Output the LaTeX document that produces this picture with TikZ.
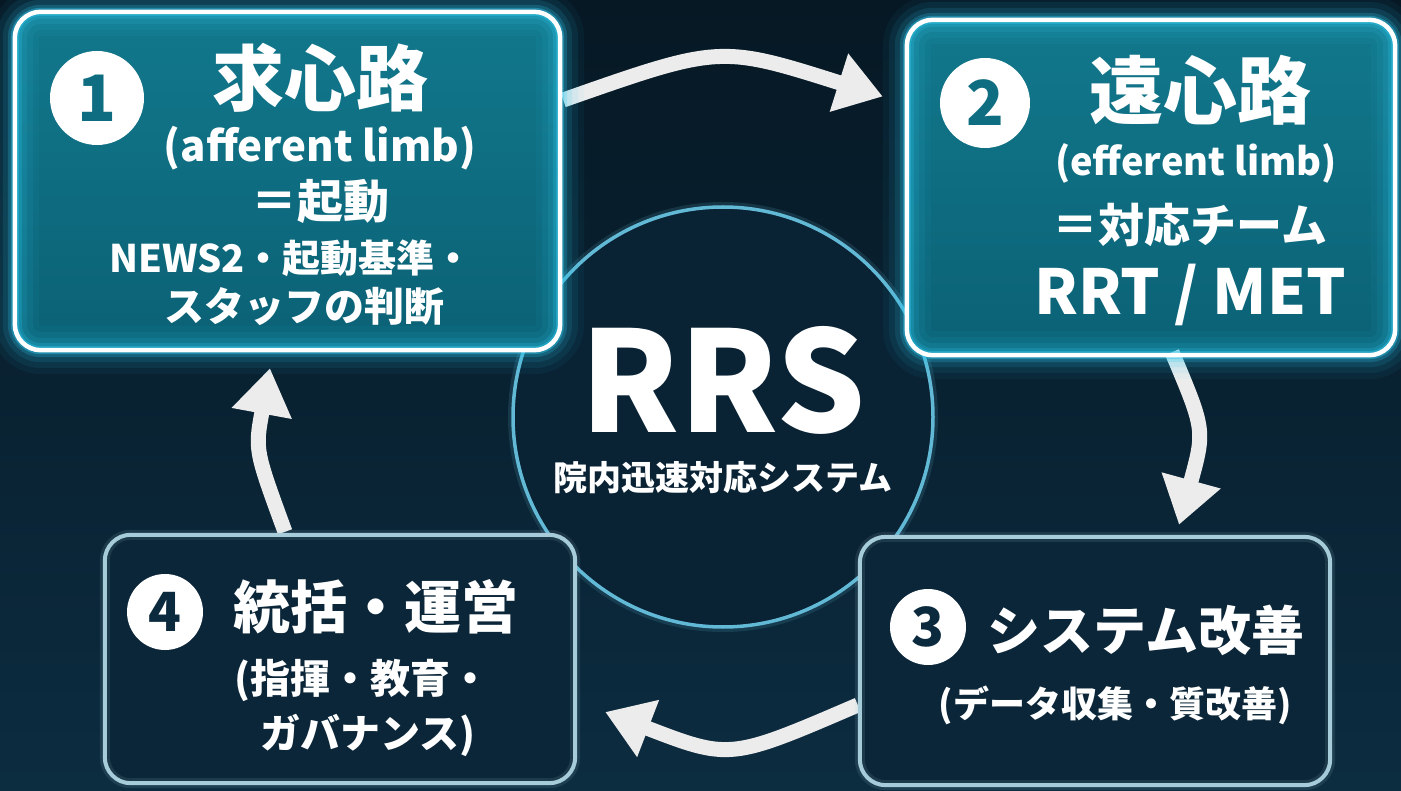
\documentclass[tikz,border=0pt]{standalone}
\usepackage{fontspec}
\setmainfont{Noto Sans CJK JP}
\usetikzlibrary{arrows.meta,calc}
\definecolor{bgtop}{HTML}{061824}
\definecolor{bgbot}{HTML}{0C2C40}
\definecolor{tealA}{HTML}{12788C}
\definecolor{tealB}{HTML}{0B6175}
\definecolor{glowc}{HTML}{2EC8EE}
\definecolor{darkfill}{HTML}{0B2638}
\definecolor{lightbd}{HTML}{A6CCDA}
\definecolor{circbd}{HTML}{62B9D6}
\definecolor{circfill}{HTML}{092234}
\definecolor{arrc}{HTML}{ECECEC}
\definecolor{digteal}{HTML}{0E6D81}
\definecolor{digdark}{HTML}{0B2A3E}
\newcommand{\fsz}[1]{\fontsize{#1}{#1}\selectfont}
\begin{document}
\begin{tikzpicture}[x=1pt,y=-1pt,
  boxshape/.style={rectangle, rounded corners=26pt, inner sep=0pt},
  hotbox/.style={boxshape, top color=tealA, bottom color=tealB},
  coolbox/.style={boxshape, fill=darkfill},
  numc/.style={circle, fill=white, minimum size=#1, inner sep=0pt},
  lbl/.style={text=white, inner sep=0pt, anchor=center},
  arr/.style={draw=arrc, line width=15pt, -{Triangle[length=46pt,width=58pt]}},
]
\useasboundingbox (0,0) rectangle (1401,791);
\shade[top color=bgtop, bottom color=bgbot] (0,0) rectangle (1401,791);

% central circle
\node[circle, draw=circbd, line width=10pt, draw opacity=0.15, minimum size=420pt, inner sep=0pt] (cglow) at (723,417) {};
\node[circle, draw=circbd, line width=3.5pt, fill=circfill, minimum size=420pt, inner sep=0pt] (c) at (723,417) {};

% boxes (fills)
\node[hotbox, minimum width=545pt, minimum height=338pt] (b1) at (287.5,181) {};
\node[hotbox, minimum width=488pt, minimum height=335pt] (b2) at (1151,187.5) {};
\node[coolbox, minimum width=470pt, minimum height=248pt] (b3) at (1095,661) {};
\node[coolbox, minimum width=470pt, minimum height=248pt] (b4) at (340,659) {};

% arrows
\draw[arr] ($(b1.east)+(3,-81)$) .. controls (720,45) .. ($(b2.west)+(-24,-91)$);
\draw[arr] ($(b2.south)+(21,-3)$) .. controls (1205,430) .. ($(b3.north)+(84,-12)$);
\draw[arr] ($(b3.west)+(-2,44)$) .. controls (730,760) .. ($(b4.east)+(30,53)$);
\draw[arr] ($(b4.north)+(-55,-3)$) .. controls (255,450) .. ($(b1.south)+(-17.5,18)$);

% glowing borders
\foreach \bx in {b1,b2}{
  \foreach \w/\o in {48/0.05,36/0.08,24/0.12,14/0.22,8/0.4}{
    \draw[glowc, line width=\w pt, opacity=\o, rounded corners=26pt] (\bx.north west) rectangle (\bx.south east);
  }
  \draw[white, line width=4.5pt, rounded corners=26pt] (\bx.north west) rectangle (\bx.south east);
}
\foreach \bx in {b3,b4}{
  \draw[lightbd, line width=10pt, opacity=0.12, rounded corners=26pt] (\bx.north west) rectangle (\bx.south east);
  \draw[lightbd, line width=4pt, rounded corners=26pt] (\bx.north west) rectangle (\bx.south east);
}

% box 1 text
\node[numc=94pt, font=\bfseries\fsz{64}, text=digteal] (n1) at (97,98) {1};
\node[lbl, font=\bfseries\fsz{72}] (t1) at (320,78) {求心路};
\node[lbl, font=\bfseries\fsz{42}] (t1a) at (320,148) {(afferent limb)};
\node[lbl, font=\bfseries\fsz{46}] (t1b) at (320,201) {＝起動};
\node[lbl, font=\bfseries\fsz{38}] (t1c) at (291,258) {NEWS2・起動基準・};
\node[lbl, font=\bfseries\fsz{40}] (t1d) at (304,306) {スタッフの判断};

% box 2 text
\node[numc=90pt, font=\bfseries\fsz{62}, text=digteal] (n2) at (985,103) {2};
\node[lbl, font=\bfseries\fsz{74}] (t2) at (1200,90) {遠心路};
\node[lbl, font=\bfseries\fsz{38}] (t2a) at (1196,163) {(efferent limb)};
\node[lbl, font=\bfseries\fsz{46}] (t2b) at (1190,225) {＝対応チーム};
\node[lbl, font=\bfseries\fsz{62}] (t2c) at (1190,295) {RRT / MET};

% centre text
\node[lbl, font=\bfseries\fsz{140}] (rrs) at (723,380) {RRS};
\node[lbl, font=\bfseries\fsz{34}] (rrsj) at (723,478) {院内迅速対応システム};

% box 3 text
\node[numc=76pt, font=\bfseries\fsz{54}, text=digdark] (n3) at (928,627) {3};
\node[lbl, font=\bfseries\fsz{53}] (t3) at (1146,630) {システム改善};
\node[lbl, font=\bfseries\fsz{36}] (t3a) at (1115,705) {(データ収集・質改善)};

% box 4 text
\node[numc=76pt, font=\bfseries\fsz{54}, text=digdark] (n4) at (165,612) {4};
\node[lbl, font=\bfseries\fsz{57}] (t4) at (376,607) {統括・運営};
\node[lbl, font=\bfseries\fsz{40}] (t4a) at (362,680) {(指揮・教育・};
\node[lbl, font=\bfseries\fsz{40}] (t4b) at (368,735) {ガバナンス)};
\end{tikzpicture}
\end{document}
